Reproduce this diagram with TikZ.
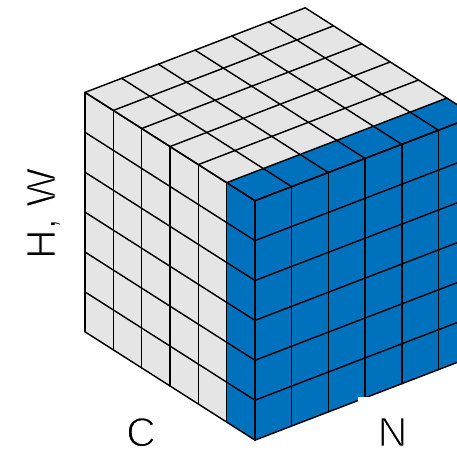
\documentclass[tikz,border=0pt]{standalone}
\usepackage{fontspec}
\setmainfont{Liberation Sans}
\definecolor{cubegray}{RGB}{229,229,229}
\definecolor{cubeblue}{RGB}{0,114,189}
\newcommand{\thintext}[1]{\special{pdf:literal q 2 Tr 1 1 1 RG 1.05 w}#1\special{pdf:literal Q}}
\tikzset{
  gridline/.style={draw=black, line width=1.45pt, line cap=round, line join=round},
  lbl/.style={font=\fontsize{41}{41}\selectfont, text depth=0pt, inner sep=0pt}
}
\begin{document}
\begin{tikzpicture}[x=1pt,y=1pt]
\useasboundingbox (0,0) rectangle (457,-451);
\clip (0,0) rectangle (457,-451);
\begin{scope}[shift={(85,-92.4)}, x={(28.33pt,-18.05pt)}, y={(36.7pt,14.1pt)}, z={(0pt,-39.9pt)}]
  % faces
  \fill[cubegray] (0,0,0) -- (5,0,0) -- (5,0,6) -- (0,0,6) -- cycle;
  \fill[cubeblue] (5,0,0) -- (6,0,0) -- (6,0,6) -- (5,0,6) -- cycle;
  \fill[cubegray] (0,0,0) -- (5,0,0) -- (5,6,0) -- (0,6,0) -- cycle;
  \fill[cubeblue] (5,0,0) -- (6,0,0) -- (6,6,0) -- (5,6,0) -- cycle;
  \fill[cubeblue] (6,0,0) -- (6,6,0) -- (6,6,6) -- (6,0,6) -- cycle;
  % grid lines
  \foreach \i in {0,...,6} {
    \draw[gridline] (\i,0,0) -- (\i,0,6);
    \draw[gridline] (\i,0,0) -- (\i,6,0);
  }
  \foreach \k in {0,...,6} {
    \draw[gridline] (0,0,\k) -- (6,0,\k);
    \draw[gridline] (6,0,\k) -- (6,6,\k);
  }
  \foreach \j in {0,...,6} {
    \draw[gridline] (0,\j,0) -- (6,\j,0);
    \draw[gridline] (6,\j,0) -- (6,\j,6);
  }
\end{scope}
% white background patch of the N label that overlaps the cube edge
\fill[white] (358,-397) rectangle (457,-451);
\node[lbl] (C) at (141,-432) {\thintext{C}};
\node[lbl] (N) at (392.5,-432) {\thintext{N}};
\node[lbl, rotate=90] (HW) at (41,-213.5) {\thintext{H, W}};
\end{tikzpicture}
\end{document}
